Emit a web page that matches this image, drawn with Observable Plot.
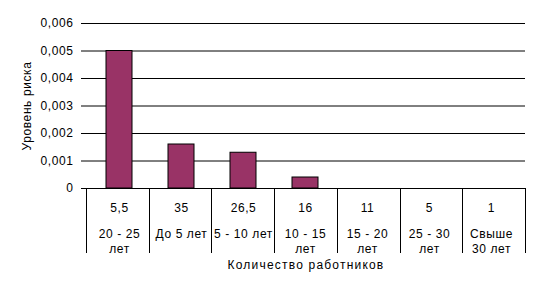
<!DOCTYPE html>
<html>
<head>
<meta charset="utf-8">
<script src="https://cdn.jsdelivr.net/npm/d3@7"></script>
<script src="https://cdn.jsdelivr.net/npm/@observablehq/plot@0.6"></script>
<style>
  html, body { margin: 0; padding: 0; background: #fff; }
</style>
</head>
<body>
<div id="chart"></div>
<script>
const categories = ["20 - 25\nлет", "До 5 лет", "5 - 10 лет", "10 - 15\nлет", "15 - 20\nлет", "25 - 30\nлет", "Свыше\n30 лет"];
const counts = [5.5, 35, 26.5, 16, 11, 5, 1];
const risk = [0.005, 0.0016, 0.0013, 0.0004, 0, 0, 0];
const yTicks = [0, 0.001, 0.002, 0.003, 0.004, 0.005, 0.006];
const yTitle = "Уровень риска";
const xTitle = "Количество работников";

const data = categories.map((c, i) => ({cat: c, count: counts[i], risk: risk[i]}));
const comma = v => v === 0 ? "0" : String(v).replace(".", ",");
const commaTick = v => v === 0 ? "0" : v.toFixed(3).replace(".", ",");

const dividers = (index, scales, values, dims) => {
  const {width, marginLeft, marginRight} = dims;
  const n = categories.length;
  const step = (width - marginLeft - marginRight) / n;
  const y0 = scales.y(0);
  const g = d3.create("svg:g").attr("stroke", "black").attr("stroke-width", 1);
  for (let i = 0; i <= n; i++) {
    const x = Math.round(marginLeft + i * step) + 0.5;
    g.append("line").attr("x1", x).attr("x2", x).attr("y1", y0).attr("y2", y0 + 65);
  }
  return g.node();
};

const plot = Plot.plot({
  width: 539,
  height: 289,
  marginTop: 23,
  marginBottom: 101,
  marginLeft: 86,
  marginRight: 14,
  style: {fontFamily: "'Liberation Sans', Arial, sans-serif", fontSize: "12px", letterSpacing: "0.6px", color: "black", background: "white"},
  x: {domain: categories, paddingInner: 0.58, paddingOuter: 0.29, axis: null},
  y: {domain: [0, 0.006], ticks: yTicks, tickFormat: commaTick, label: null},
  marks: [
    Plot.gridY(yTicks, {stroke: "black", strokeOpacity: 1}),
    Plot.axisY(yTicks, {tickSize: 5, tickPadding: 8, tickFormat: commaTick, label: null, stroke: "black"}),
    Plot.barY(data, {x: "cat", y: "risk", fill: "#993366", stroke: "black", strokeWidth: 1}),
    Plot.ruleY([0], {stroke: "black"}),
    dividers,
    Plot.text(data, {x: "cat", y: () => 0, text: d => comma(d.count), dy: 20, fill: "black"}),
    Plot.text(data, {x: "cat", y: () => 0, text: "cat", lineAnchor: "top", dy: 38.5, lineHeight: 1.25, fill: "black"}),
    Plot.text([xTitle], {frameAnchor: "bottom", dy: 80, fill: "black"}),
    Plot.text([yTitle], {frameAnchor: "left", textAnchor: "middle", rotate: -90, dx: -59, fill: "black"})
  ]
});
d3.select(plot).selectAll("text").filter(function() { return this.textContent === xTitle; }).attr("letter-spacing", "1.2px");
document.getElementById("chart").appendChild(plot);
</script>
</body>
</html>
